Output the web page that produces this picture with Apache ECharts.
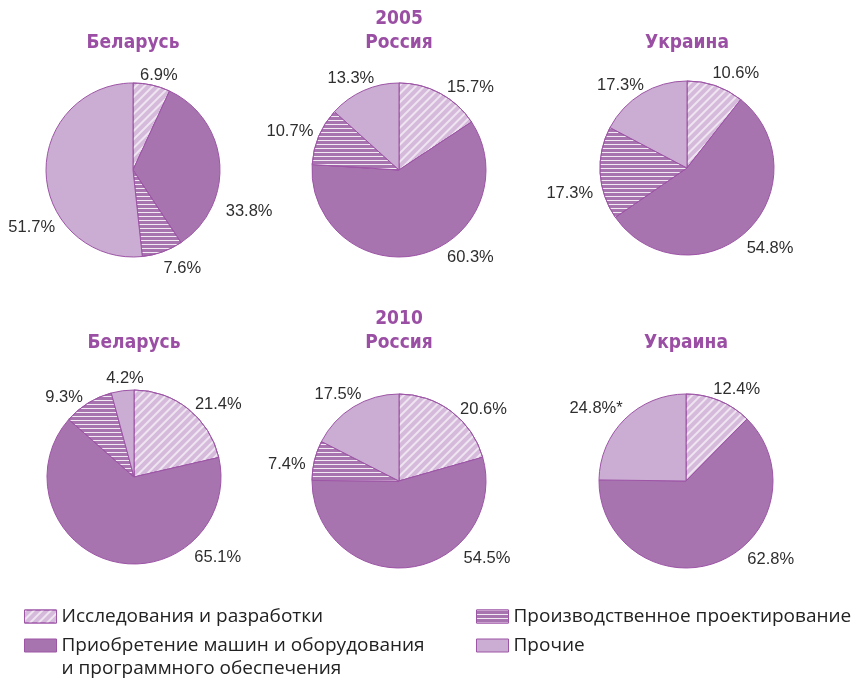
<!DOCTYPE html>
<html>
<head>
<meta charset="utf-8">
<script src="https://cdn.jsdelivr.net/npm/echarts@6/dist/echarts.min.js"></script>
<style>
  html, body { margin: 0; padding: 0; background: #fff; }
  #chart { width: 860px; height: 681px; }
</style>
</head>
<body>
<div id="chart"></div>
<script>
// Innovation expenditure structure by type, % of total
const countries = ['Беларусь', 'Россия', 'Украина'];
const years = ['2005', '2010'];
const categories = [
  'Исследования и разработки',
  'Приобретение машин и оборудования и программного обеспечения',
  'Производственное проектирование',
  'Прочие'
];
// values per country (Беларусь, Россия, Украина)
const research2005  = [6.9, 15.7, 10.6];
const machinery2005 = [33.8, 60.3, 54.8];
const design2005    = [7.6, 10.7, 17.3];
const other2005     = [51.7, 13.3, 17.3];
const research2010  = [21.4, 20.6, 12.4];
const machinery2010 = [65.1, 54.5, 62.8];
const design2010    = [9.3, 7.4, null];
const other2010     = [4.2, 17.5, 24.8];
// footnote marks on the "Прочие" labels for 2010
const otherNotes2010 = ['', '', '*'];

const purple = '#9b4fa4';
const edge = '#9d55a6';
const styles = [
  { color: '#d5badb', decal: { symbol: 'rect', symbolSize: 1, dashArrayX: [1, 0], dashArrayY: [2, 3.4], rotation: -Math.PI / 4, color: 'rgba(255,255,255,0.62)' } },
  { color: '#a874b0' },
  { color: '#a874b0', decal: { symbol: 'rect', symbolSize: 1, dashArrayX: [1, 0], dashArrayY: [1, 2.4], rotation: 0, color: 'rgba(255,255,255,0.85)' } },
  { color: '#cbadd3' }
];

// pie placement: [x, y] per chart, row by row
const centers = [[133, 170], [399, 170], [687, 168], [134, 477], [399, 481], [686, 481]];
const R = 87;
const titleY = [43, 343];
// label nudges from the default outside position, per category
const labelNudge = [
  [[-18, -4], [-5, 48], [-6, 11], [20, 52]],
  [[-1, -1], [19, -2], [5, -2], [18, -7]],
  [[-10, -7], [-9, 13], [4, 20], [10, -3]],
  [[-2, 0], [135, -10], [7, -6], [27, -6]],
  [[0, 3], [47, -15], [2, 5], [16, -7]],
  [[-13, -6], [21, -8], [0, 0], [7, -6]]
];

function buildData(vals, notes) {
  const out = [];
  vals.forEach((v, i) => {
    if (v == null) return;
    out.push({
      name: categories[i],
      value: v,
      cat: i,
      note: notes ? notes[i] : '',
      itemStyle: Object.assign({ borderColor: edge, borderWidth: 1 }, styles[i])
    });
  });
  return out;
}

const series = [];
const titles = [];
const titleFont = {
  fontFamily: 'DejaVu Sans Condensed, DejaVu Sans, sans-serif',
  fontWeight: 'bold',
  fontSize: 19,
  lineHeight: 24,
  color: purple
};
years.forEach((yr, yi) => {
  const sets = yi === 0
    ? [research2005, machinery2005, design2005, other2005]
    : [research2010, machinery2010, design2010, other2010];
  countries.forEach((c, ci) => {
    const k = yi * 3 + ci;
    const vals = sets.map(s => s[ci]);
    const notes = yi === 1 ? ['', '', '', otherNotes2010[ci]] : null;
    const nudge = labelNudge[k];
    series.push({
      type: 'pie',
      name: c + ' ' + yr,
      center: centers[k],
      radius: R,
      startAngle: 90,
      clockwise: true,
      animation: false,
      silent: true,
      label: {
        show: true,
        position: 'outside',
        edgeDistance: 0,
        overflow: 'none',
        formatter: p => p.value.toFixed(1) + '%' + (p.data.note || ''),
        fontFamily: 'Liberation Sans, Arial, sans-serif',
        fontSize: 16.5,
        color: '#2e2e2e'
      },
      labelLine: { show: false, length: 6, length2: 0 },
      labelLayout: p => {
        const d = series[p.seriesIndex].data[p.dataIndex];
        const n = nudge[d.cat];
        return { dx: n[0], dy: n[1] };
      },
      data: buildData(vals, notes)
    });
    titles.push({
      text: ci === 1 ? yr + '\n' + c : c,
      left: centers[k][0],
      top: titleY[yi] - 12 - (ci === 1 ? 24 : 0),
      textAlign: 'center',
      padding: 0,
      textStyle: titleFont
    });
  });
});

const legendText = {
  fontFamily: 'Open Sans, sans-serif',
  fontSize: 19,
  lineHeight: 23,
  color: '#222'
};
function legendItem(name, left, top, label) {
  return {
    orient: 'vertical',
    left: left,
    top: top,
    padding: 0,
    itemWidth: 32,
    itemHeight: 13,
    selectedMode: false,
    icon: 'rect',
    itemStyle: { borderWidth: 1 },
    textStyle: legendText,
    formatter: () => label || name,
    data: [{ name: name }]
  };
}

const option = {
  backgroundColor: '#fff',
  title: titles,
  legend: [
    legendItem(categories[0], 24, 605),
    // blank first line keeps the first text line level with the swatch
    legendItem(categories[1], 24, 611, '\nПриобретение машин и оборудования\nи программного обеспечения'),
    legendItem(categories[2], 476, 605),
    legendItem(categories[3], 476, 634)
  ],
  series: series
};

const chart = echarts.init(document.getElementById('chart'), null, { renderer: 'canvas' });
chart.setOption(option);
</script>
</body>
</html>
